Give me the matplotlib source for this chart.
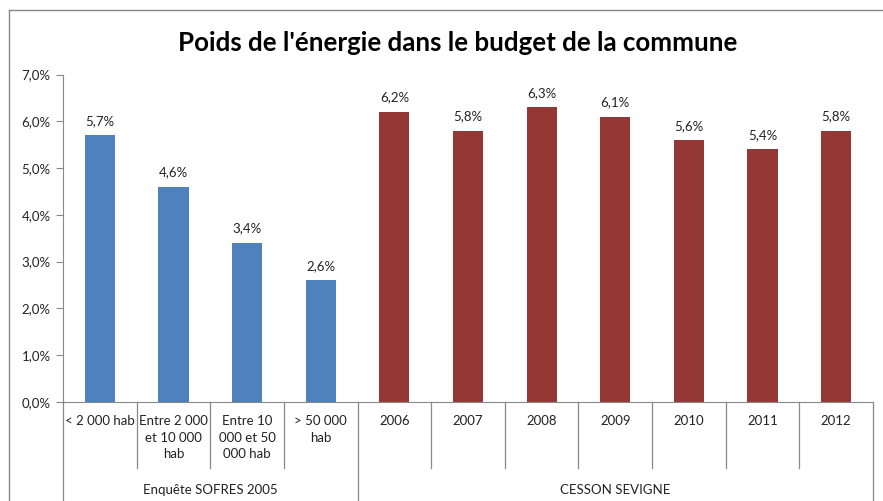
import matplotlib
matplotlib.use("Agg")
import matplotlib.pyplot as plt
from matplotlib.lines import Line2D
import matplotlib.transforms as mtransforms

plt.rcParams['font.family'] = ['Lato', 'DejaVu Sans']

categories = ["< 2 000 hab", "Entre 2 000\net 10 000\nhab", "Entre 10\n000 et 50\n000 hab", "> 50 000\nhab",
              "2006", "2007", "2008", "2009", "2010", "2011", "2012"]
values = [5.7, 4.6, 3.4, 2.6, 6.2, 5.8, 6.3, 6.1, 5.6, 5.4, 5.8]
groups = ["Enquête SOFRES 2005", "CESSON SEVIGNE"]
group_sizes = [4, 7]
group_colors = ["#4F81BD", "#953735"]
yticks = [0, 1, 2, 3, 4, 5, 6, 7]

W, H = 883, 501
fig = plt.figure(figsize=(W / 100, H / 100), dpi=100)
ax = fig.add_axes([63 / W, 1 - 402 / H, (873 - 63) / W, (402 - 74.5) / H])

colors = []
for g, n in enumerate(group_sizes):
    colors += [group_colors[g]] * n
x = list(range(len(values)))
bars = ax.bar(x, values, width=0.41, color=colors)
for xi, v in zip(x, values):
    ax.annotate(f"{v:.1f}%".replace(".", ","), (xi, v), xytext=(0, 6), textcoords="offset points",
                ha="center", va="bottom", fontsize=9.5, color="#222222")

ax.set_xlim(-0.5, len(values) - 0.5)
ax.set_ylim(0, 7)
ax.set_yticks(yticks)
ax.set_yticklabels([f"{t:.1f}%".replace(".", ",") for t in yticks], fontsize=9.5, color="#222222")
ax.tick_params(axis="y", length=5, color="#888888", pad=4)
ax.set_xticks([])
for s in ["top", "right"]:
    ax.spines[s].set_visible(False)
for s in ["left", "bottom"]:
    ax.spines[s].set_color("#888888")

trans = mtransforms.blended_transform_factory(ax.transData, ax.transAxes)
ypx = 327.5
short = -(468 - 402) / ypx
long_ = -(501 - 402) / ypx
# category labels
for xi, lab in zip(x, categories):
    ax.text(xi, -(415 - 402) / ypx, lab, transform=trans, ha="center", va="top",
            fontsize=9.5, color="#222222", linespacing=1.45)
# separators
bounds = [0]
for n in group_sizes:
    bounds.append(bounds[-1] + n)
for b in range(len(values) + 1):
    xb = b - 0.5
    y2 = long_ if b in bounds else short
    ax.add_line(Line2D([xb, xb], [0, y2], transform=trans, color="#888888", lw=0.9, clip_on=False))
# group labels
for g, name in enumerate(groups):
    cx = (bounds[g] + bounds[g + 1] - 1) / 2
    ax.text(cx, -(490 - 402) / ypx, name, transform=trans, ha="center", va="center",
            fontsize=9.5, color="#222222")

fig.suptitle("Poids de l'énergie dans le budget de la commune", x=(180 + 735) / 2 / W,
             y=1 - 43 / H, va="center", fontsize=18.6, fontweight="bold", color="#000000")

# chart frame
fig.add_artist(Line2D([9 / W, 9 / W], [0, 1 - 10 / H], transform=fig.transFigure, color="#888888", lw=1))
fig.add_artist(Line2D([9 / W, 1], [1 - 10 / H, 1 - 10 / H], transform=fig.transFigure, color="#888888", lw=1))

fig.savefig("out.png", dpi=100)
